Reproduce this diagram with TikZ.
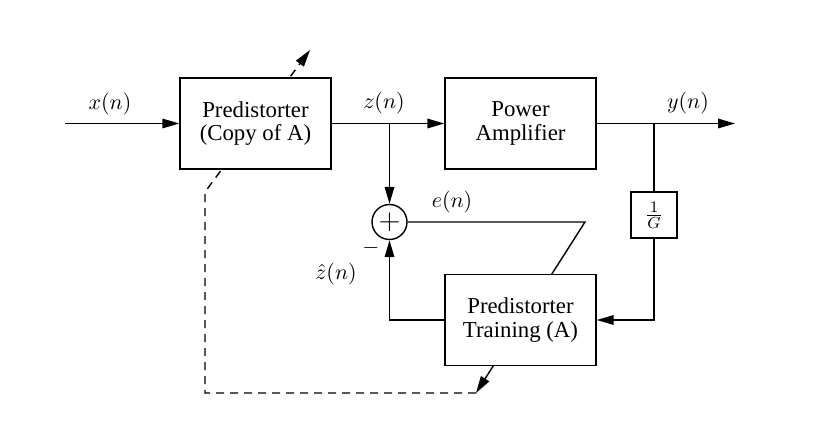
\documentclass[tikz,border=0pt]{standalone}
\usepackage[no-math]{fontspec}
\setmainfont{Liberation Serif}
\usetikzlibrary{arrows.meta,positioning}

\begin{document}
\begin{tikzpicture}[x=0.5pt, y=-0.5pt,
    font=\fontsize{11.4}{11.6}\selectfont,
    line width=0.7pt,
    block/.style={rectangle, draw, fill=white, minimum width=75.5pt, minimum height=45.5pt, align=center},
    gainbox/.style={rectangle, draw, fill=white, minimum width=23pt, minimum height=23pt},
    sumnode/.style={circle, draw, fill=white, minimum size=17.5pt, inner sep=0pt, font=\fontsize{15}{15}\selectfont},
    arr/.style={-{Triangle[length=8.5pt, width=4.8pt]}},
    adapt/.style={arr, dashed, dash pattern=on 4pt off 3pt},
    label/.style={inner sep=0pt}
]
\useasboundingbox (0,0) rectangle (828,438);

% Summing junction
\node[sumnode] (sum) at (389.5, 222) {$+$};

% Free ends
\coordinate (in) at (65, 123.5);
\coordinate (out) at (735, 123.5);
\coordinate (zsplit) at (389.5, 123.5);
\coordinate (ysplit) at (654, 123.5);
\coordinate (ecorner) at (585, 222);
\coordinate (etip) at (476, 393);
\coordinate (dleft) at (205, 393);
\coordinate (dup) at (205, 192);
\coordinate (dtip) at (310, 50);

% Adaptation paths (run through the blocks)
\draw[arr] (sum) -- (ecorner) -- (etip);
\draw[adapt] (etip) -- (dleft) -- (dup) -- (dtip);

% Blocks
\node[block] (copy) at (255.5, 123.5) {Predistorter\\(Copy of A)};
\node[block] (pa) at (520.5, 123.5) {Power\\Amplifier};
\node[block] (train) at (520.5, 320) {Predistorter\\Training (A)};
\node[gainbox] (gain) at (654, 215) {$\frac{1}{G}$};

% Forward path
\draw[arr] (in) -- (copy);
\draw[arr] (copy) -- (pa);
\draw[arr] (pa) -- (out);
\draw[arr] (zsplit) -- (sum);

% Feedback path
\draw (ysplit) -- (gain);
\draw[arr] (gain) |- (train);
\draw[arr] (train) -| (sum);

% Signal labels
\node[label] (xlab) at (110, 104) {$x(n)$};
\node[label] (zlab) at (384, 103) {$z(n)$};
\node[label] (ylab) at (688, 103) {$y(n)$};
\node[label] (elab) at (452, 202) {$e(n)$};
\node[label] (zhatlab) at (336, 274) {$\hat{z}(n)$};
\node[label] (minus) at (371, 248) {$-$};

\end{tikzpicture}
\end{document}
